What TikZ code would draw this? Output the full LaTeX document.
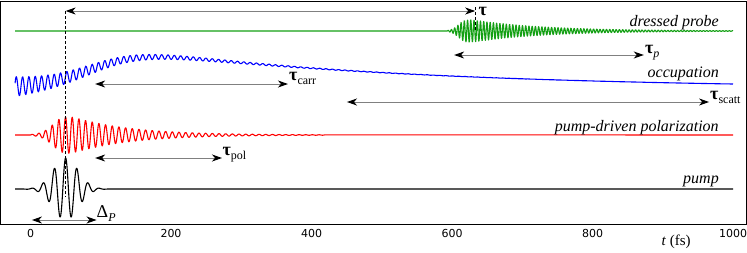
\documentclass[tikz,border=0pt]{standalone}
\usepackage{fontspec}
\setmainfont{Liberation Serif}
\newfontfamily\tickfont{DejaVu Sans}
\usetikzlibrary{arrows.meta}
\definecolor{probegreen}{RGB}{20,160,20}
\definecolor{spangray}{RGB}{128,128,128}
\newcommand\taulbl[1]{\textbf{τ}\raisebox{-4pt}{\fontsize{12}{14}\selectfont #1}}

\begin{document}
\begin{tikzpicture}[
  x=0.7025pt, y=-1pt,
  trace/.style={line width=1.1pt, line join=round},
  span/.style={draw=spangray, line width=1pt, {Stealth[length=10pt,width=7pt,inset=3pt,black]}-{Stealth[length=10pt,width=7pt,inset=3pt,black]}},
  delay/.style={black, line width=1pt, dash pattern=on 3pt off 2pt},
  curvelabel/.style={anchor=base east, font=\fontsize{16}{18}\selectfont\itshape, inner sep=0pt},
  taulabel/.style={anchor=base west, font=\fontsize{18}{20}\selectfont, inner sep=0pt},
  ticklabel/.style={anchor=base, font=\tickfont\fontsize{11}{13}\selectfont, inner sep=0pt}
]
\useasboundingbox (-43.42,0) rectangle (1019.93,252);
\draw[line width=1pt] (-42,1) rectangle (1018.5,224);

\draw[trace, probegreen] (-22,31) -- (593.4,31) -- plot[domain=593.4:1000, samples=1000]
  ({\x},{31-13/(1+exp(-(\x-610)/5))*exp(-(\x-615)/100)*sin(mod(\x,4.6)*78.261)});
\draw[trace, blue] plot[domain=-22:1000, samples=1200]
  ({\x},{89-54/(1+exp(-(\x-94)/37))*exp(-\x/420)+10*exp(-(\x+22)/145)*sin(mod(\x,9)*40)});
\draw[trace, red] (-22,135) -- (0,135) -- plot[domain=0:420, samples=700]
  ({\x},{135-21/(1+exp(-(\x-35)/8))*exp(-(\x-50)/80)*sin(mod(\x,9.5)*37.895)}) -- (1000,135);
\draw[trace, black] plot[domain=-22:135, samples=500]
  ({\x},{189-31*exp(-((\x-50)/25)*((\x-50)/25))*cos((\x-50)*22.5)}) -- (1000,189);

\coordinate (dashtop) at (50,11);
\coordinate (dashbot) at (50,197);
\coordinate (probetop) at (633,7);
\coordinate (probebot) at (633,31);
\draw[delay] (dashtop) -- (dashbot);
\draw[delay] (probetop) -- (probebot);

\coordinate (tauA) at (50,11);     \coordinate (tauB) at (633,11);
\coordinate (taupA) at (603,55);   \coordinate (taupB) at (873,55);
\coordinate (carrA) at (92,84);    \coordinate (carrB) at (366.5,84);
\coordinate (scattA) at (450.5,102); \coordinate (scattB) at (966,102);
\coordinate (polA) at (92,158);    \coordinate (polB) at (272.6,158);
\coordinate (pumpA) at (2,220);    \coordinate (pumpB) at (94,220);

\draw[span] (tauA) -- (tauB);
\draw[span] (taupA) -- (taupB);
\draw[span] (carrA) -- (carrB);
\draw[span] (scattA) -- (scattB);
\draw[span] (polA) -- (polB);
\draw[span] (pumpA) -- (pumpB);

\node[taulabel] (ltau) at (637.5,15) {\textbf{τ}};
\node[taulabel] (ltaup) at (874.6,53) {\taulbl{\itshape p}};
\node[taulabel] (lcarr) at (368,80) {\taulbl{carr}};
\node[taulabel] (lscatt) at (967.3,99) {\taulbl{scatt}};
\node[taulabel] (lpol) at (273.3,155) {\taulbl{pol}};
\node[taulabel] (lwidth) at (94,217) {Δ\raisebox{-4pt}{\fontsize{12}{14}\selectfont\itshape P}};

\node[curvelabel] (lprobe) at (980,26) {dressed probe};
\node[curvelabel] (locc) at (980,77) {occupation};
\node[curvelabel] (lpolar) at (980,131) {pump-driven polarization};
\node[curvelabel] (lpump) at (980,183) {pump};

\foreach \t in {0,200,...,1000}
  \node[ticklabel] (tick\t) at (\t,237) {\t};
\node[anchor=base, font=\fontsize{15}{17}\selectfont, inner sep=0pt] (axis) at (919,245) {\textit{t} (fs)};
\end{tikzpicture}
\end{document}
